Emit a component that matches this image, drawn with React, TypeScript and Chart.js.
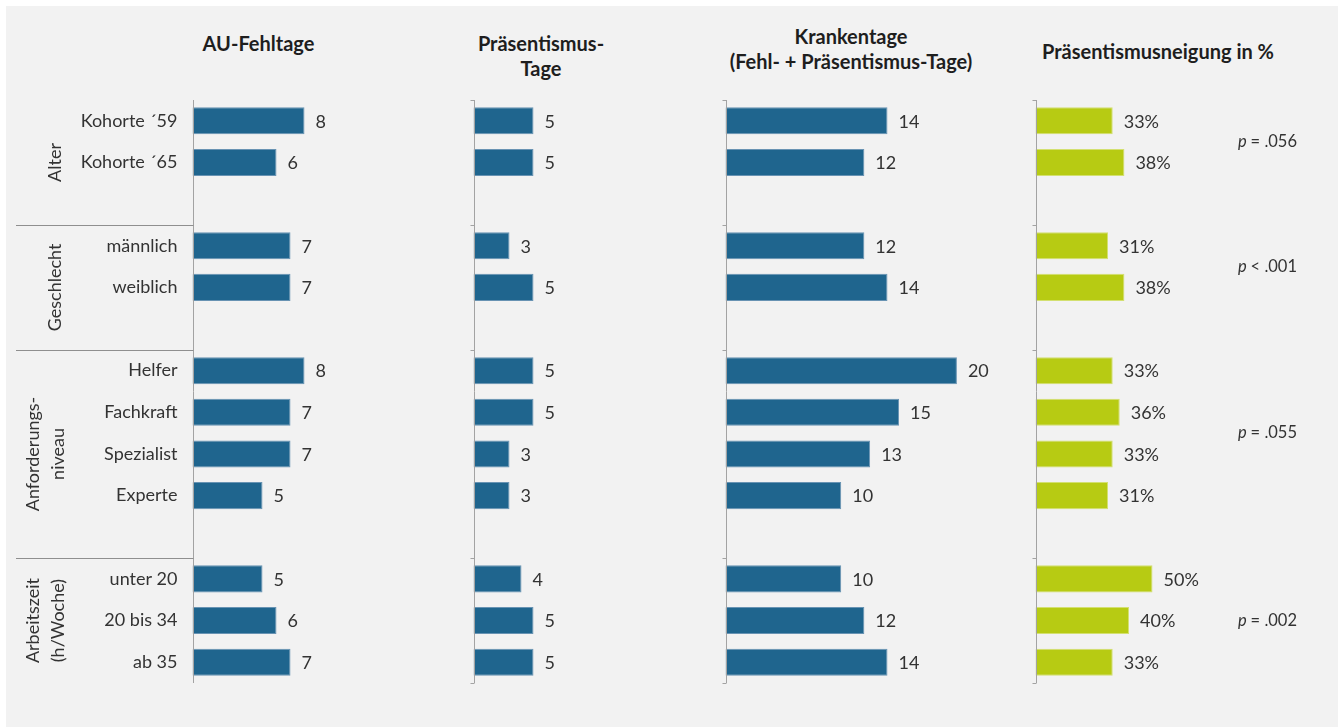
import React, { useEffect, useRef } from 'react';
import { Chart, registerables } from 'chart.js';

Chart.register(...registerables);

// ---------- data ----------
const categories = ['Kohorte ´59', 'Kohorte ´65', '', 'männlich', 'weiblich', '', 'Helfer', 'Fachkraft', 'Spezialist', 'Experte', '', 'unter 20', '20 bis 34', 'ab 35'];
const groupNames = [['Alter'], ['Geschlecht'], ['Anforderungs-', 'niveau'], ['Arbeitszeit', '(h/Woche)']];
const groupFirst = [0, 3, 6, 11];
const groupLast = [1, 4, 9, 13];
const groupSlotEnd = [2, 5, 10, 13];
const pValueOps = ['=', '<', '=', '='];
const pValueNums = ['.056', '.001', '.055', '.002'];

const auFehltage = [8, 6, null, 7, 7, null, 8, 7, 7, 5, null, 5, 6, 7];
const praesentismusTage = [5, 5, null, 3, 5, null, 5, 5, 3, 3, null, 4, 5, 5];
const krankentage = [14, 12, null, 12, 14, null, 20, 15, 12.5, 10, null, 10, 12, 14];
const praesentismusneigung = [33, 38, null, 31, 38, null, 33, 36, 33, 31, null, 50, 40, 33];

const panelTitles = [['AU-Fehltage'], ['Präsentismus-', 'Tage'], ['Krankentage', '(Fehl- + Präsentismus-Tage)'], ['Präsentismusneigung in %']];

// ---------- style ----------
const FONT = 'Lato';
const BLUE = '#1f658e';
const BLUE_EDGE = '#6893b3';
const GREEN = '#b7cb13';
const GREEN_EDGE = '#d3e070';
const AXIS = '#a3a3a3';
const SEP = '#8f8f8f';
const TEXT = '#333333';
const TITLE = '#1e1e1e';
const LABEL_SIZE = 18;

type PanelCfg = {
  data: (number | null)[];
  title: string[];
  left: number;
  width: number;
  axisX: number;
  xMax: number;
  areaWidth: number;
  color: string;
  edge: string;
  suffix: string;
  showCats: boolean;
  pvalues: boolean;
  titleX: number;
  titleY: number;
};

const PANELS: PanelCfg[] = [
  { data: auFehltage, title: panelTitles[0], left: 0, width: 440, axisX: 192.5, xMax: 12, areaWidth: 168, color: BLUE, edge: BLUE_EDGE, suffix: '', showCats: true, pvalues: false, titleX: 258.5, titleY: 43 },
  { data: praesentismusTage, title: panelTitles[1], left: 440, width: 260, axisX: 473.5, xMax: 15, areaWidth: 180, color: BLUE, edge: BLUE_EDGE, suffix: '', showCats: false, pvalues: false, titleX: 541, titleY: 43 },
  { data: krankentage, title: panelTitles[2], left: 700, width: 320, axisX: 725.5, xMax: 24, areaWidth: 277.7, color: BLUE, edge: BLUE_EDGE, suffix: '', showCats: false, pvalues: false, titleX: 851, titleY: 36 },
  { data: praesentismusneigung, title: panelTitles[3], left: 1010, width: 333, axisX: 1035.5, xMax: 70, areaWidth: 163.8, color: GREEN, edge: GREEN_EDGE, suffix: '%', showCats: false, pvalues: true, titleX: 1158, titleY: 51 },
];

const CHART_TOP = 100;
const CHART_BOTTOM = 683;
const H = 727;

function makeDeco(cfg: PanelCfg) {
  return {
    id: 'panelDeco',
    afterDatasetsDraw(chart: any) {
      const { ctx, chartArea: a } = chart;
      const ys = chart.scales.y;
      const half = (ys.getPixelForValue(1) - ys.getPixelForValue(0)) / 2;
      const top = ys.getPixelForValue(0) - half;
      const bottom = ys.getPixelForValue(categories.length - 1) + half;
      ctx.save();
      const ax = Math.round(a.left) + 0.5;
      // axis line
      ctx.strokeStyle = AXIS;
      ctx.lineWidth = 1;
      ctx.beginPath();
      ctx.moveTo(ax, top);
      ctx.lineTo(ax, bottom);
      ctx.stroke();
      // group boundaries
      const bounds: number[] = [top];
      for (let g = 1; g < groupFirst.length; g++) bounds.push(ys.getPixelForValue(groupFirst[g]) - half);
      bounds.push(bottom);
      if (cfg.showCats) {
        ctx.strokeStyle = SEP;
        for (let b = 1; b < bounds.length - 1; b++) {
          const y = Math.round(bounds[b]) + 0.5;
          ctx.beginPath();
          ctx.moveTo(16 - cfg.left, y);
          ctx.lineTo(ax, y);
          ctx.stroke();
        }
        // rotated group labels
        ctx.fillStyle = TEXT;
        ctx.font = `${LABEL_SIZE}px ${FONT}`;
        ctx.textAlign = 'center';
        ctx.textBaseline = 'middle';
        groupNames.forEach((lines, g) => {
          const cy = (ys.getPixelForValue(groupFirst[g]) - half + ys.getPixelForValue(groupSlotEnd[g]) + half) / 2;
          lines.forEach((line, i) => {
            const x = lines.length === 1 ? 54 : 32 + i * 25;
            ctx.save();
            ctx.translate(x - cfg.left, cy);
            ctx.rotate(-Math.PI / 2);
            ctx.fillText(line, 0, 1);
            ctx.restore();
          });
        });
      } else {
        ctx.strokeStyle = AXIS;
        bounds.forEach((b) => {
          const y = Math.round(b) + 0.5;
          ctx.beginPath();
          ctx.moveTo(ax - 4, y);
          ctx.lineTo(ax, y);
          ctx.stroke();
        });
      }
      // value labels
      const meta = chart.getDatasetMeta(0);
      ctx.fillStyle = TEXT;
      ctx.font = `${LABEL_SIZE}px ${FONT}`;
      ctx.textAlign = 'left';
      ctx.textBaseline = 'middle';
      cfg.data.forEach((v, i) => {
        if (v == null) return;
        const bar = meta.data[i];
        ctx.fillText(`${Math.round(v)}${cfg.suffix}`, bar.x + 11, bar.y + 1);
      });
      // p-values
      if (cfg.pvalues) {
        const px = 1238 - cfg.left;
        pValueNums.forEach((num, g) => {
          const cy = (ys.getPixelForValue(groupFirst[g]) + ys.getPixelForValue(groupLast[g])) / 2;
          ctx.font = `italic 16.5px ${FONT}`;
          ctx.fillText('p', px, cy);
          const w = ctx.measureText('p ').width;
          ctx.font = `16.5px ${FONT}`;
          ctx.fillText(`${pValueOps[g]} ${num}`, px + w, cy);
        });
      }
      ctx.restore();
    },
  };
}

function Panel({ cfg }: { cfg: PanelCfg }) {
  const ref = useRef<HTMLCanvasElement>(null);
  useEffect(() => {
    if (!ref.current) return;
    const padLeft = cfg.showCats ? 0 : cfg.axisX - cfg.left;
    const padRight = cfg.width - (cfg.axisX - cfg.left) - cfg.areaWidth;
    const chart = new Chart(ref.current, {
      type: 'bar',
      data: {
        labels: categories,
        datasets: [
          {
            data: cfg.data as any,
            backgroundColor: cfg.color,
            borderColor: cfg.edge,
            borderWidth: 1,
            borderSkipped: 'start',
            categoryPercentage: 1,
            barPercentage: 0.65,
          },
        ],
      },
      options: {
        indexAxis: 'y',
        responsive: false,
        animation: false,
        events: [],
        layout: { padding: { left: padLeft, right: padRight, top: CHART_TOP, bottom: H - CHART_BOTTOM } },
        scales: {
          x: { display: false, min: 0, max: cfg.xMax },
          y: {
            display: cfg.showCats,
            grid: { display: false, drawTicks: false },
            border: { display: false },
            ticks: { color: TEXT, font: { family: FONT, size: LABEL_SIZE }, padding: 15, autoSkip: false },
            afterFit: (s: any) => {
              if (cfg.showCats) s.width = cfg.axisX - cfg.left;
            },
          },
        },
        plugins: { legend: { display: false }, tooltip: { enabled: false }, title: { display: false } },
      },
      plugins: [makeDeco(cfg)],
    });
    return () => chart.destroy();
  }, [cfg]);
  return (
    <canvas
      ref={ref}
      width={cfg.width}
      height={H}
      style={{ position: 'absolute', left: cfg.left, top: 0, width: cfg.width, height: H }}
    />
  );
}

export default function App() {
  return (
    <div style={{ position: 'absolute', left: 0, top: 0, width: 1343, height: H, overflow: 'hidden', background: '#ffffff', fontFamily: FONT }}>
      <div style={{ position: 'absolute', left: 6, top: 6, width: 1332, height: H - 6, background: '#f2f2f2' }} />
      {PANELS.map((p, i) => (
        <div key={'t' + i}>
          {p.title.map((line, j) => (
            <div
              key={j}
              style={{
                position: 'absolute',
                left: p.titleX,
                top: p.titleY - 12.5 + j * 25,
                transform: 'translateX(-50%)',
                whiteSpace: 'nowrap',
                fontWeight: 700,
                fontSize: 20,
                lineHeight: '25px',
                color: TITLE,
              }}
            >
              {line}
            </div>
          ))}
        </div>
      ))}
      {PANELS.map((p, i) => (
        <Panel key={i} cfg={p} />
      ))}
    </div>
  );
}
